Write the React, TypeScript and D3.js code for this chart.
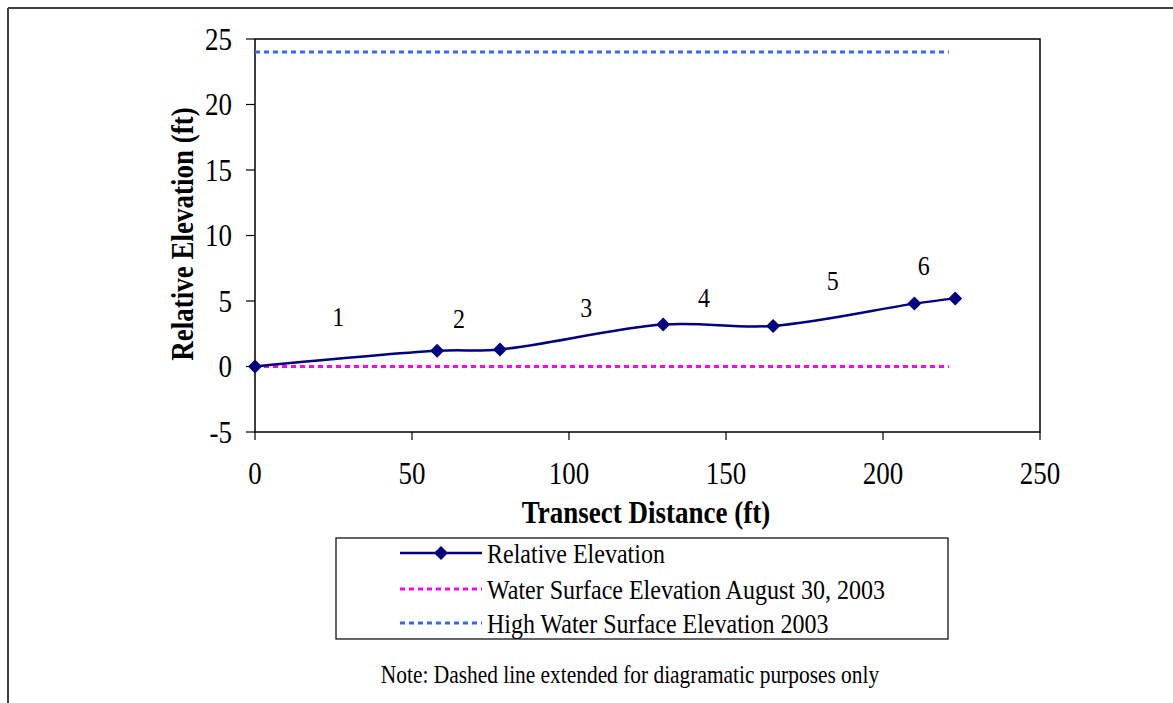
import React from "react";
import * as d3 from "d3";

const distances = [0, 58, 78, 130, 165, 210, 223];
const elevations = [0, 1.2, 1.3, 3.2, 3.1, 4.8, 5.2];
const waterX = [0, 221];
const waterY = [0, 0];
const highX = [0, 221];
const highY = [24, 24];
const segLabels = ["1", "2", "3", "4", "5", "6"];
const segLabelX = [26.5, 65, 105.5, 143, 184, 213];
const segLabelY = [3.8, 3.7, 4.55, 5.3, 6.6, 7.75];
const xTicks = [0, 50, 100, 150, 200, 250];
const yTicks = [-5, 0, 5, 10, 15, 20, 25];
const legendLabels = [
  "Relative Elevation",
  "Water Surface Elevation August 30, 2003",
  "High Water Surface Elevation 2003",
];

const W = 1173;
const H = 703;
const FONT = "Liberation Serif, Times New Roman, serif";
const SY = 1.15;

type TP = {
  x: number;
  y: number;
  size: number;
  anchor?: "start" | "middle" | "end";
  bold?: boolean;
  rotate?: number;
  children: React.ReactNode;
};

// text whose centre line sits at (x, y), stretched vertically like the reference
function Txt({ x, y, size, anchor = "start", bold = false, rotate = 0, children }: TP) {
  return (
    <text
      transform={`translate(${x},${y}) rotate(${rotate}) scale(1,${SY})`}
      dy="0.35em"
      textAnchor={anchor}
      fontSize={size}
      fontWeight={bold ? "bold" : "normal"}
      style={{ fontFamily: FONT }}
      fill="#000"
    >
      {children}
    </text>
  );
}

export default function App() {
  const left = 255, right = 1040, top = 39, bottom = 432;
  const x = d3.scaleLinear().domain([0, 250]).range([left, right]);
  const y = d3.scaleLinear().domain([-5, 25]).range([bottom, top]);

  const pts: [number, number][] = distances.map((d, i) => [x(d), y(elevations[i])]);
  const line = d3.line().curve(d3.curveCatmullRom.alpha(0.5));
  const diamond = (cx: number, cy: number, r: number) =>
    `M${cx},${cy - r}L${cx + r},${cy}L${cx},${cy + r}L${cx - r},${cy}Z`;

  const lx0 = 400, lx1 = 482;
  const rows = [553, 589, 623];

  return (
    <svg width={W} height={H} style={{ position: "absolute", left: 0, top: 0 }}>
      <rect x={0} y={0} width={W} height={H} fill="#fff" />
      {/* outer frame */}
      <line x1={8} y1={8} x2={1173} y2={8} stroke="#404040" strokeWidth={2} />
      <line x1={8} y1={8} x2={8} y2={703} stroke="#404040" strokeWidth={2} />

      {/* plot frame */}
      <rect x={left} y={top} width={right - left} height={bottom - top} fill="none" stroke="#000" strokeWidth={1.5} />
      {yTicks.map((t) => (
        <g key={"y" + t}>
          <line x1={left - 9} x2={left} y1={y(t)} y2={y(t)} stroke="#000" strokeWidth={1.2} />
          <Txt x={232} y={y(t)} size={27} anchor="end">{t}</Txt>
        </g>
      ))}
      {xTicks.map((t) => (
        <g key={"x" + t}>
          <line x1={x(t)} x2={x(t)} y1={bottom} y2={bottom + 8} stroke="#000" strokeWidth={1.2} />
          <Txt x={x(t)} y={473} size={27} anchor="middle">{t}</Txt>
        </g>
      ))}
      <Txt x={646} y={512} size={27} anchor="middle" bold>Transect Distance (ft)</Txt>
      <Txt x={182} y={234} size={27} anchor="middle" bold rotate={-90}>Relative Elevation (ft)</Txt>

      {/* dashed lines */}
      <line x1={x(waterX[0])} x2={x(waterX[1])} y1={y(waterY[0])} y2={y(waterY[1])}
        stroke="#FF00FF" strokeWidth={3} strokeDasharray="5,4" />
      <line x1={x(highX[0])} x2={x(highX[1])} y1={y(highY[0])} y2={y(highY[1])}
        stroke="#3366FF" strokeWidth={3} strokeDasharray="5,4" />

      {/* elevation line */}
      <path d={line(pts) || ""} fill="none" stroke="#000080" strokeWidth={2.5} />
      {pts.map(([px, py], i) => (
        <path key={"m" + i} d={diamond(px, py, 7)} fill="#000080" />
      ))}

      {segLabels.map((s, i) => (
        <Txt key={"s" + i} x={x(segLabelX[i])} y={y(segLabelY[i])} size={24} anchor="middle">{s}</Txt>
      ))}

      {/* legend */}
      <rect x={336} y={538} width={612} height={101} fill="#fff" stroke="#000" strokeWidth={1.2} />
      <line x1={lx0} x2={lx1} y1={rows[0]} y2={rows[0]} stroke="#000080" strokeWidth={2.5} />
      <path d={diamond((lx0 + lx1) / 2, rows[0], 7)} fill="#000080" />
      <line x1={lx0} x2={lx1} y1={rows[1]} y2={rows[1]} stroke="#FF00FF" strokeWidth={3} strokeDasharray="5,4" />
      <line x1={lx0} x2={lx1} y1={rows[2]} y2={rows[2]} stroke="#3366FF" strokeWidth={3} strokeDasharray="5,4" />
      {legendLabels.map((l, i) => (
        <Txt key={"l" + i} x={487} y={rows[i]} size={24}>{l}</Txt>
      ))}

      <Txt x={630} y={674} size={21.4} anchor="middle">
        Note: Dashed line extended for diagramatic purposes only
      </Txt>
    </svg>
  );
}
